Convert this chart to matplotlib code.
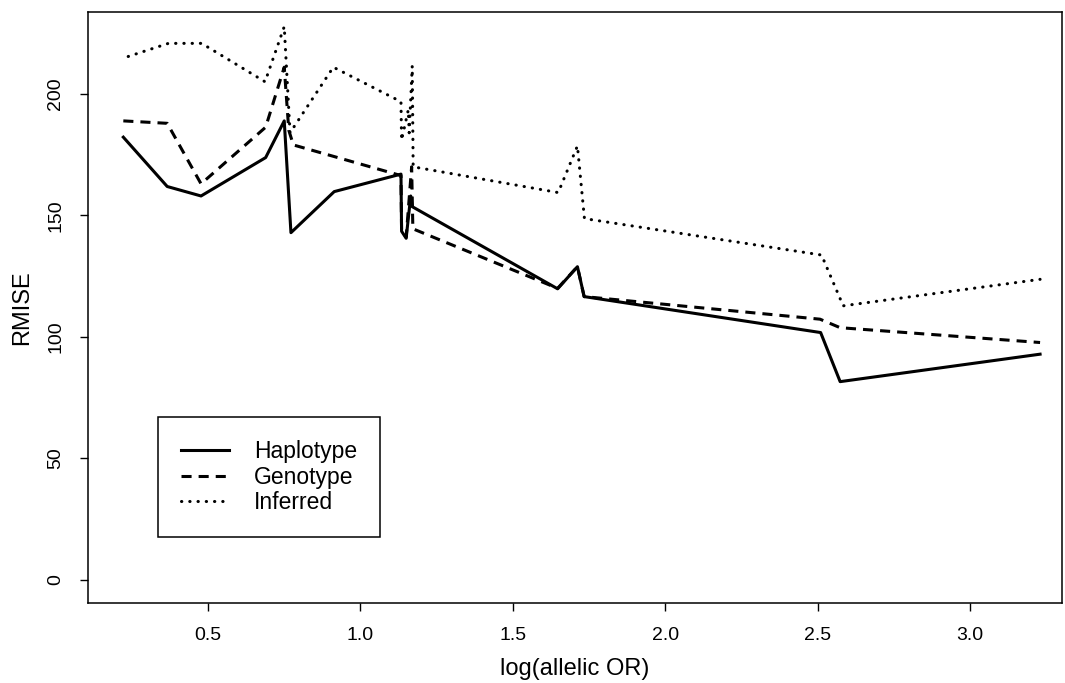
import matplotlib
matplotlib.use("Agg")
import matplotlib.pyplot as plt

# data
hap_x = [0.222, 0.366, 0.477, 0.689, 0.750, 0.772, 0.914, 1.133, 1.135, 1.150,
         1.165, 1.170, 1.647, 1.712, 1.734, 2.510, 2.574, 3.230]
hap_y = [182.2, 161.9, 158.0, 173.8, 188.9, 142.9, 159.8, 167.0, 143.5, 140.6,
         158.0, 153.6, 119.8, 128.9, 116.6, 101.8, 81.6, 92.9]

gen_x = [0.222, 0.366, 0.477, 0.689, 0.750, 0.765, 0.780, 1.133, 1.135, 1.150,
         1.168, 1.172, 1.647, 1.712, 1.734, 2.508, 2.574, 3.230]
gen_y = [188.9, 187.9, 163.0, 186.3, 211.0, 185.0, 179.0, 166.4, 144.0, 141.0,
         170.0, 144.5, 120.0, 128.9, 116.6, 107.3, 103.8, 97.7]

inf_x = [0.238, 0.370, 0.479, 0.687, 0.750, 0.769, 0.911, 1.133, 1.135, 1.157,
         1.160, 1.170, 1.173, 1.649, 1.712, 1.735, 2.513, 2.584, 3.230]
inf_y = [215.4, 220.8, 220.8, 205.0, 227.7, 184.0, 211.0, 196.8, 181.0, 193.4,
         184.0, 211.5, 170.0, 159.4, 178.6, 148.7, 133.7, 112.8, 123.7]

labels = ["Haplotype", "Genotype", "Inferred"]
x_ticks = [0.5, 1.0, 1.5, 2.0, 2.5, 3.0]
y_ticks = [0, 50, 100, 150, 200]

plt.rcParams["font.family"] = ["Liberation Sans", "DejaVu Sans"]

fig = plt.figure(figsize=(10.65, 6.83), dpi=100)
ax = fig.add_axes([0.0826, 0.1171, 0.9146, 0.8653])

lw = 2.2
ax.plot(hap_x, hap_y, color="black", lw=lw, ls="-", label=labels[0])
ax.plot(gen_x, gen_y, color="black", lw=lw, ls=(0, (3.3, 2.3)), label=labels[1])
ax.plot(inf_x, inf_y, color="black", lw=lw, ls=(0, (0.1, 2.6)),
        dash_capstyle="round", label=labels[2])

ax.set_xlim(0.106, 3.302)
ax.set_ylim(-9.5, 233.7)
ax.set_xticks(x_ticks)
ax.set_xticklabels([f"{t:.1f}" for t in x_ticks])
ax.set_yticks(y_ticks)
ax.set_yticklabels([str(t) for t in y_ticks], rotation=90, va="center")

ax.tick_params(direction="out", length=6, width=1, labelsize=14, pad=11, colors="black")
for s in ax.spines.values():
    s.set_linewidth(1.1)
    s.set_color("black")

ax.set_xlabel("log(allelic OR)", fontsize=17, labelpad=10)
ax.set_ylabel("RMISE", fontsize=17, labelpad=10)

leg = ax.legend(loc="upper left", bbox_to_anchor=(0.072, 0.315), fontsize=16.5,
                frameon=True, fancybox=False, edgecolor="black", framealpha=1,
                handlelength=2.1, handletextpad=1.1, borderpad=1.0,
                labelspacing=0.12, borderaxespad=0)
leg.get_frame().set_linewidth(1.1)

fig.savefig("out.png", dpi=100, facecolor="white")
